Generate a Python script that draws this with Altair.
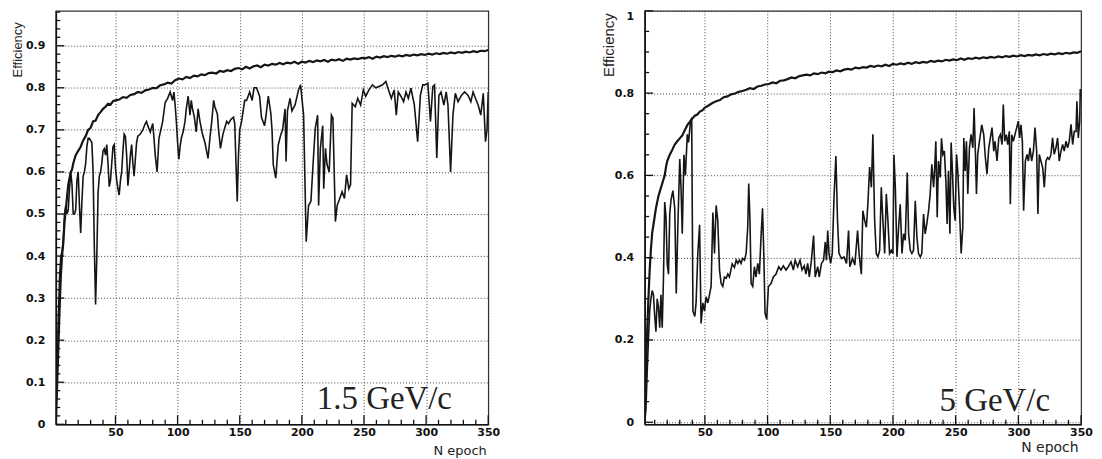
import altair as alt
import pandas as pd

# ---------------- data ----------------
epochs_upper = list(range(2, 21)) + list(range(22, 51, 2)) + list(range(53, 351, 3))

left_upper = [
    0.00, 0.09, 0.18, 0.27, 0.35, 0.40, 0.43, 0.48, 0.51, 0.54,
    0.57, 0.585, 0.60, 0.605, 0.62, 0.63, 0.64, 0.645, 0.65,
    0.66, 0.675, 0.685, 0.70, 0.705, 0.72, 0.722, 0.735, 0.742, 0.75,
    0.755, 0.762, 0.76, 0.768, 0.77,
    0.772, 0.778, 0.776, 0.783, 0.785, 0.79, 0.788, 0.794, 0.796, 0.80,
    0.799, 0.806, 0.808, 0.812, 0.81, 0.818, 0.822, 0.82, 0.826, 0.823,
    0.829, 0.827, 0.832, 0.83, 0.835, 0.836, 0.834, 0.84, 0.838, 0.842,
    0.84, 0.845, 0.847, 0.844, 0.85, 0.846, 0.851, 0.853, 0.849, 0.855,
    0.853, 0.857, 0.855, 0.859, 0.856, 0.86, 0.858, 0.862, 0.857, 0.862,
    0.86, 0.864, 0.861, 0.865, 0.863, 0.866, 0.862, 0.867, 0.865, 0.868,
    0.864, 0.869, 0.867, 0.87, 0.868, 0.871, 0.87, 0.873, 0.869, 0.874,
    0.872, 0.875, 0.873, 0.876, 0.874, 0.877, 0.875, 0.878, 0.876, 0.879,
    0.877, 0.88, 0.878, 0.881, 0.879, 0.882, 0.88, 0.883, 0.881, 0.884,
    0.882, 0.885, 0.883, 0.886, 0.884, 0.887, 0.885, 0.888, 0.887, 0.89,
]

right_upper = [
    0.0, 0.12, 0.22, 0.30, 0.37, 0.42, 0.46, 0.48, 0.50, 0.52,
    0.535, 0.55, 0.56, 0.57, 0.58, 0.59, 0.60, 0.62, 0.635,
    0.65, 0.662, 0.675, 0.683, 0.69, 0.697, 0.71, 0.722, 0.73, 0.738,
    0.745, 0.748, 0.755, 0.758, 0.765,
    0.77, 0.776, 0.78, 0.783, 0.79, 0.792, 0.797, 0.799, 0.803, 0.805,
    0.808, 0.812, 0.81, 0.816, 0.818, 0.821, 0.822, 0.826, 0.824, 0.83,
    0.831, 0.834, 0.838, 0.836, 0.841, 0.843, 0.845, 0.843, 0.848, 0.846,
    0.85, 0.848, 0.852, 0.851, 0.855, 0.853, 0.857, 0.859, 0.857, 0.862,
    0.86, 0.863, 0.862, 0.866, 0.864, 0.867, 0.865, 0.869, 0.866, 0.871,
    0.869, 0.872, 0.87, 0.874, 0.871, 0.875, 0.873, 0.876, 0.874, 0.878,
    0.876, 0.879, 0.877, 0.881, 0.879, 0.882, 0.88, 0.884, 0.881, 0.885,
    0.883, 0.886, 0.884, 0.887, 0.885, 0.888, 0.886, 0.889, 0.887, 0.89,
    0.888, 0.891, 0.889, 0.892, 0.89, 0.893, 0.891, 0.894, 0.892, 0.895,
    0.893, 0.896, 0.894, 0.897, 0.895, 0.898, 0.896, 0.899, 0.898, 0.902,
]

left_lower_epoch = [
    2, 3, 4, 5, 6, 7, 8, 9, 10, 11,
    12, 13, 14, 15, 16, 17, 18, 19, 20, 21,
    22, 23, 24, 25, 26, 27, 28, 29, 30, 31,
    32, 33, 34, 35, 36, 37, 38, 39, 40, 41,
    42, 43, 44, 45, 46, 47, 48, 49, 50, 51,
    52, 53, 54, 55, 56, 57, 58, 59, 60, 61,
    62, 63, 64, 65, 66, 67, 68, 70, 72, 74,
    75, 76, 78, 80, 81, 82, 83.5, 85, 86.5, 88,
    90, 92, 94, 95, 96, 97, 98, 99, 100, 101,
    102, 103, 104.5, 106, 107, 108.5, 110, 111, 112, 113.5,
    115, 116.5, 118, 120, 122, 124.5, 126, 127.5, 129, 130,
    132, 133, 134.5, 136.5, 138, 139.5, 141, 143, 145, 146,
    147, 148, 149, 150, 151.5, 153, 154, 155.5, 158, 160,
    161.5, 163.5, 166, 167.5, 170, 171, 173, 175, 176, 177,
    179, 181, 183, 184.5, 186.5, 187.3, 188.4, 190.5, 192, 194.6,
    197.3, 199, 201.4, 203.5, 205.4, 207.3, 209, 210.8, 212.7, 213.5,
    214.9, 216.8, 217.6, 219, 220.3, 222, 223.8, 225, 227, 228.4,
    230.5, 232.4, 234.3, 236, 237.8, 239.2, 240.5, 243, 245, 247.3,
    249.5, 251.4, 254, 256.8, 259.5, 262, 265, 267.6, 270.3, 272,
    274.3, 276, 277.6, 279.7, 281.9, 283.8, 285.7, 287.8, 290.5, 293.2,
    295.4, 297.3, 299.2, 301.4, 303.5, 305.4, 306.8, 308.6, 310.3, 312,
    314.3, 316.2, 317.6, 319.7, 321.6, 323.5, 325.7, 328.4, 331, 333.8,
    336, 337.8, 339.7, 341.9, 344, 346, 347.8, 349, 350,
]
left_lower_eff = [
    0.0, 0.12, 0.25, 0.35, 0.40, 0.41, 0.44, 0.50, 0.52, 0.50,
    0.51, 0.56, 0.60, 0.57, 0.50, 0.50, 0.51, 0.58, 0.60, 0.52,
    0.455, 0.53, 0.59, 0.60, 0.62, 0.66, 0.68, 0.68, 0.675, 0.67,
    0.60, 0.42, 0.285, 0.40, 0.55, 0.59, 0.60, 0.62, 0.65, 0.655,
    0.64, 0.665, 0.62, 0.565, 0.58, 0.62, 0.66, 0.665, 0.61, 0.58,
    0.56, 0.545, 0.58, 0.60, 0.65, 0.69, 0.685, 0.64, 0.567, 0.60,
    0.64, 0.665, 0.62, 0.59, 0.63, 0.67, 0.685, 0.69, 0.70, 0.715,
    0.72, 0.71, 0.695, 0.715, 0.68, 0.64, 0.60, 0.68, 0.70, 0.72,
    0.765, 0.775, 0.79, 0.78, 0.77, 0.79, 0.76, 0.72, 0.67, 0.63,
    0.66, 0.68, 0.696, 0.72, 0.75, 0.78, 0.735, 0.77, 0.75, 0.73,
    0.695, 0.75, 0.72, 0.69, 0.67, 0.632, 0.68, 0.72, 0.77, 0.755,
    0.738, 0.70, 0.656, 0.69, 0.705, 0.72, 0.715, 0.725, 0.73, 0.715,
    0.62, 0.53, 0.64, 0.70, 0.72, 0.75, 0.77, 0.77, 0.79, 0.77,
    0.80, 0.80, 0.78, 0.73, 0.71, 0.73, 0.78, 0.74, 0.70, 0.617,
    0.585, 0.664, 0.688, 0.70, 0.75, 0.625, 0.745, 0.775, 0.745, 0.76,
    0.795, 0.807, 0.735, 0.434, 0.52, 0.53, 0.617, 0.704, 0.735, 0.52,
    0.656, 0.71, 0.56, 0.656, 0.617, 0.60, 0.735, 0.728, 0.482, 0.52,
    0.537, 0.553, 0.537, 0.593, 0.56, 0.57, 0.763, 0.755, 0.775, 0.759,
    0.795, 0.78, 0.795, 0.807, 0.80, 0.803, 0.807, 0.815, 0.79, 0.775,
    0.795, 0.735, 0.79, 0.78, 0.767, 0.79, 0.775, 0.799, 0.76, 0.672,
    0.782, 0.807, 0.807, 0.811, 0.72, 0.803, 0.807, 0.633, 0.782, 0.79,
    0.759, 0.79, 0.759, 0.60, 0.735, 0.787, 0.767, 0.782, 0.79, 0.782,
    0.767, 0.79, 0.775, 0.759, 0.735, 0.787, 0.672, 0.70, 0.79,
]

right_lower_epoch = [
    2, 3, 4, 5, 6, 7, 8, 9, 10, 11,
    12, 13, 14, 15, 16, 17, 18, 19, 20, 21,
    22, 23, 24.5, 26, 27.2, 28.5, 30, 31, 32, 33.3,
    34.5, 36, 37, 38.5, 39.5, 40.5, 42, 43, 44.4, 45.8,
    47, 48.4, 49.7, 51, 52.4, 53.7, 55, 56.4, 57.7, 59,
    60.3, 61.7, 63, 64.3, 65.6, 67, 68.3, 69.6, 71.8, 73.6,
    75, 76.3, 77.6, 78.9, 80.2, 81.6, 82.9, 84.2, 85, 86,
    86.9, 88.2, 89.5, 90.8, 92.2, 93.5, 94.8, 96, 97, 98,
    99.3, 100.7, 102.8, 104.6, 106.8, 108.9, 110.7, 112.6, 114.7, 116.6,
    118.7, 120.6, 122, 124, 125.9, 127.5, 129.3, 130.6, 132, 133.3,
    135, 136.7, 138, 140, 141.2, 143, 144.7, 146, 147, 148,
    149, 150.3, 151.6, 153, 154.5, 155.8, 157, 159, 161, 163,
    164.6, 165.6, 167.8, 169.6, 171.8, 173, 174.8, 176, 177.5, 178.8,
    180, 181.4, 182.8, 184, 185.4, 186.7, 188, 189.4, 190.7, 192,
    193.4, 194.7, 196, 197.3, 198.7, 200, 200.8, 201.9, 203.2, 204.5,
    205.8, 207.2, 208.5, 209.8, 211.4, 212.5, 213.8, 215.1, 216.4, 217.8,
    219.1, 220.4, 221.8, 223, 224.4, 225.7, 227, 228.4, 229.7, 231,
    232.4, 233.2, 234.2, 235.3, 236.3, 237.7, 238.7, 239.8, 241, 242.2,
    243.2, 244.3, 245.4, 246.4, 247.2, 248.5, 249.6, 250.7, 251.7, 253,
    254.4, 255.7, 256.5, 257.6, 258.6, 259.7, 261, 262.3, 263.7, 264.7,
    265.8, 266.6, 267.6, 269, 270.8, 272.4, 273.7, 275, 276.4, 277.7,
    279, 280.4, 281.4, 283, 284.4, 285.7, 287, 288, 289.1, 290.4,
    291.5, 292.8, 293.6, 294.7, 296, 297.3, 298.7, 300, 301, 302.1,
    303.2, 304.2, 305.6, 306.9, 308, 309.3, 310.6, 312, 313.3, 314.6,
    315.6, 316.7, 318, 319.4, 320.7, 322, 323.3, 324.6, 326, 327.3,
    328.6, 330, 331.3, 332.6, 334, 335.3, 336.6, 338, 339.3, 340.6,
    342, 343.3, 344.6, 346, 346.7, 347.8, 348.9, 349.4, 350,
]
right_lower_eff = [
    0.0, 0.03, 0.12, 0.20, 0.27, 0.30, 0.32, 0.31, 0.26, 0.22,
    0.30, 0.28, 0.23, 0.31, 0.23, 0.35, 0.535, 0.50, 0.385, 0.36,
    0.506, 0.54, 0.563, 0.52, 0.313, 0.48, 0.64, 0.57, 0.458, 0.65,
    0.60, 0.70, 0.68, 0.73, 0.74, 0.27, 0.257, 0.29, 0.41, 0.48,
    0.24, 0.29, 0.27, 0.305, 0.29, 0.31, 0.33, 0.51, 0.41, 0.527,
    0.49, 0.37, 0.337, 0.33, 0.353, 0.35, 0.36, 0.353, 0.385, 0.376,
    0.394, 0.386, 0.394, 0.386, 0.398, 0.394, 0.41, 0.474, 0.58, 0.49,
    0.337, 0.33, 0.378, 0.353, 0.386, 0.36, 0.45, 0.52, 0.41, 0.265,
    0.25, 0.33, 0.337, 0.353, 0.36, 0.378, 0.37, 0.38, 0.37, 0.378,
    0.39, 0.37, 0.394, 0.378, 0.394, 0.37, 0.38, 0.36, 0.386, 0.353,
    0.394, 0.454, 0.353, 0.378, 0.353, 0.386, 0.394, 0.438, 0.394, 0.466,
    0.41, 0.386, 0.41, 0.546, 0.647, 0.49, 0.41, 0.398, 0.402, 0.386,
    0.466, 0.378, 0.398, 0.382, 0.466, 0.41, 0.36, 0.514, 0.49, 0.474,
    0.53, 0.62, 0.571, 0.70, 0.49, 0.41, 0.402, 0.418, 0.571, 0.49,
    0.41, 0.555, 0.49, 0.41, 0.418, 0.41, 0.65, 0.571, 0.402, 0.474,
    0.53, 0.41, 0.458, 0.442, 0.607, 0.458, 0.418, 0.41, 0.418, 0.538,
    0.45, 0.41, 0.402, 0.41, 0.506, 0.458, 0.482, 0.514, 0.555, 0.627,
    0.571, 0.611, 0.683, 0.498, 0.635, 0.595, 0.69, 0.651, 0.659, 0.587,
    0.482, 0.611, 0.458, 0.68, 0.627, 0.522, 0.49, 0.651, 0.611, 0.522,
    0.41, 0.474, 0.691, 0.611, 0.683, 0.555, 0.667, 0.70, 0.667, 0.764,
    0.651, 0.555, 0.651, 0.683, 0.723, 0.699, 0.643, 0.603, 0.667, 0.691,
    0.716, 0.659, 0.683, 0.635, 0.691, 0.699, 0.675, 0.772, 0.683, 0.699,
    0.675, 0.707, 0.53, 0.699, 0.683, 0.699, 0.716, 0.732, 0.691, 0.723,
    0.683, 0.514, 0.635, 0.651, 0.635, 0.667, 0.635, 0.659, 0.716, 0.659,
    0.506, 0.651, 0.635, 0.619, 0.571, 0.635, 0.643, 0.639, 0.651, 0.691,
    0.651, 0.667, 0.691, 0.635, 0.659, 0.675, 0.659, 0.683, 0.667, 0.683,
    0.724, 0.675, 0.707, 0.707, 0.78, 0.691, 0.732, 0.81, 0.79,
]

# tick positions
x_major = [50, 100, 150, 200, 250, 300, 350]
x_minor = [10, 20, 30, 40, 60, 70, 80, 90, 110, 120, 130, 140, 160, 170, 180, 190,
           210, 220, 230, 240, 260, 270, 280, 290, 310, 320, 330, 340]
left_y_major = [0, 0.1, 0.2, 0.3, 0.4, 0.5, 0.6, 0.7, 0.8, 0.9]
left_y_minor = [0.02, 0.04, 0.06, 0.08, 0.12, 0.14, 0.16, 0.18, 0.22, 0.24, 0.26, 0.28,
                0.32, 0.34, 0.36, 0.38, 0.42, 0.44, 0.46, 0.48, 0.52, 0.54, 0.56, 0.58,
                0.62, 0.64, 0.66, 0.68, 0.72, 0.74, 0.76, 0.78, 0.82, 0.84, 0.86, 0.88,
                0.92, 0.94, 0.96, 0.98]
right_y_major = [0, 0.2, 0.4, 0.6, 0.8, 1]
right_y_minor = [0.05, 0.1, 0.15, 0.25, 0.3, 0.35, 0.45, 0.5, 0.55, 0.65, 0.7, 0.75,
                 0.85, 0.9, 0.95]

LINE = "#151515"
TICK = "#111"


def panel(up_e, up_v, lo_e, lo_v, y_major, y_minor, ydom, width, height,
          label, label_x, label_y, eff_size, eff_x, eff_y, ne_size, ne_x, ne_y,
          flush_top):
    xs = alt.Scale(domain=[2, 350], nice=False, zero=False)
    ys = alt.Scale(domain=ydom, nice=False, zero=False)
    xaxis = alt.Axis(values=x_major, format="d", title="N epoch",
                     titleFont="DejaVu Sans", titleFontSize=ne_size, titleFontWeight="normal",
                     titleAnchor="end", titleAlign="right", titleBaseline="alphabetic",
                     titleX=ne_x, titleY=ne_y, labelFlush=False, ticks=False,
                     labelPadding=2, grid=True)
    yaxis = alt.Axis(values=y_major, format="~g", title="Efficiency",
                     titleFont="Liberation Sans", titleFontSize=eff_size,
                     titleFontWeight="normal", titleAngle=270, titleAlign="right",
                     titleBaseline="middle", titleX=eff_x, titleY=eff_y,
                     ticks=False, labelPadding=11, grid=True,
                     labelFlush=flush_top)

    X = alt.X("epoch:Q", scale=xs, axis=xaxis)
    Y = alt.Y("eff:Q", scale=ys, axis=yaxis)

    upper = alt.Chart(pd.DataFrame({"epoch": up_e, "eff": up_v})).mark_line(
        color=LINE, strokeWidth=2.2, clip=True).encode(x=X, y=Y)
    lower = alt.Chart(pd.DataFrame({"epoch": lo_e, "eff": lo_v})).mark_line(
        color=LINE, strokeWidth=1.6, clip=True).encode(x=X, y=Y)

    xmaj = alt.Chart(pd.DataFrame({"epoch": x_major})).mark_rule(
        color=TICK, strokeWidth=1.3).encode(x=X, y=alt.value(height - 9), y2=alt.value(height))
    xmin = alt.Chart(pd.DataFrame({"epoch": x_minor})).mark_rule(
        color=TICK, strokeWidth=1.3).encode(x=X, y=alt.value(height - 4.5), y2=alt.value(height))
    ymaj = alt.Chart(pd.DataFrame({"eff": y_major})).mark_rule(
        color=TICK, strokeWidth=1.3).encode(y=Y, x=alt.value(0), x2=alt.value(8.5))
    ymin = alt.Chart(pd.DataFrame({"eff": y_minor})).mark_rule(
        color=TICK, strokeWidth=1.3).encode(y=Y, x=alt.value(0), x2=alt.value(4.5))

    txt = alt.Chart(pd.DataFrame({"label": [label]})).mark_text(
        font="Liberation Serif", fontSize=33, align="left", baseline="alphabetic",
        color="#222").encode(x=alt.value(label_x), y=alt.value(label_y), text="label:N")

    return alt.layer(upper, lower, xmaj, xmin, ymaj, ymin, txt).properties(
        width=width, height=height)


left = panel(epochs_upper, left_upper, left_lower_epoch, left_lower_eff,
             left_y_major, left_y_minor, [0, 0.983], 434, 415,
             "1.5 GeV/c", 262, 400,
             13, -38.5, 11, 13, 432, 30, False)
right = panel(epochs_upper, right_upper, right_lower_epoch, right_lower_eff,
              right_y_major, right_y_minor, [-0.005, 1.0], 438, 415,
              "5 GeV/c", 296, 402,
              15, -36.5, 2, 14, 435, 27, True)

chart = alt.hconcat(left, right, spacing=157, bounds="flush").properties(
    padding={"left": 2, "top": 0, "right": 0, "bottom": 0},
    background="white",
).configure_axis(
    labelFont="DejaVu Sans", labelFontWeight="bold", labelFontSize=11,
    labelColor="#111", domainColor="#111", domainWidth=1.6,
    gridColor="#333", gridDash=[1, 2], gridWidth=0.9, titleColor="#222",
).configure_view(stroke="#333", strokeWidth=1.2)

chart.save("out.html", embed_options={"renderer": "svg", "actions": False})
